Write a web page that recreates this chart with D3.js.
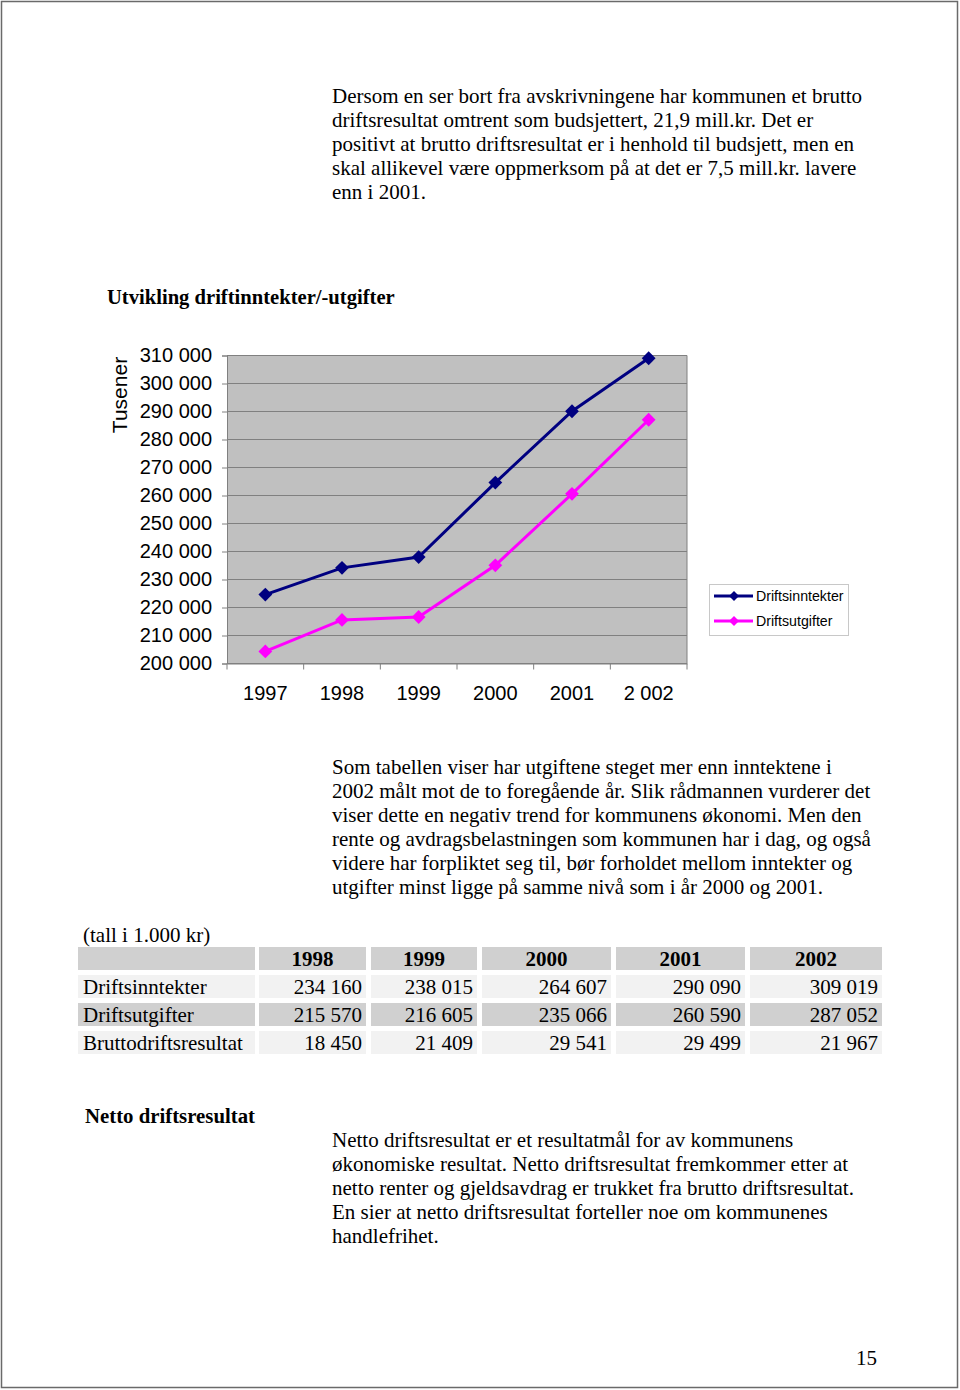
<!DOCTYPE html>
<html><head><meta charset="utf-8">
<script src="https://cdn.jsdelivr.net/npm/d3@7"></script>
<style>body{margin:0;background:#fff}svg{display:block}</style>
</head><body>
<script>
const years = ["1997","1998","1999","2000","2001","2 002"];
const inntekter = [224600,234160,238015,264607,290090,309019];
const utgifter  = [204300,215570,216605,235066,260590,287052];
const yTicks = [200000,210000,220000,230000,240000,250000,260000,270000,280000,290000,300000,310000];
const seriesNames = ["Driftsinntekter","Driftsutgifter"];
const seriesColors = ["#000080","#ff00ff"];

const tableHeader = ["","1998","1999","2000","2001","2002"];
const tableRows = [
  ["Driftsinntekter","234 160","238 015","264 607","290 090","309 019"],
  ["Driftsutgifter","215 570","216 605","235 066","260 590","287 052"],
  ["Bruttodriftsresultat","18 450","21 409","29 541","29 499","21 967"]
];

const para1 = ["Dersom en ser bort fra avskrivningene har kommunen et brutto",
"driftsresultat omtrent som budsjettert, 21,9 mill.kr. Det er",
"positivt at brutto driftsresultat er i henhold til budsjett, men en",
"skal allikevel være oppmerksom på at det er 7,5 mill.kr. lavere",
"enn i 2001."];
const para2 = ["Som tabellen viser har utgiftene steget mer enn inntektene i",
"2002 målt mot de to foregående år. Slik rådmannen vurderer det",
"viser dette en negativ trend for kommunens økonomi. Men den",
"rente og avdragsbelastningen som kommunen har i dag, og også",
"videre har forpliktet seg til, bør forholdet mellom inntekter og",
"utgifter minst ligge på samme nivå som i år 2000 og 2001."];
const para3 = ["Netto driftsresultat er et resultatmål for av kommunens",
"økonomiske resultat. Netto driftsresultat fremkommer etter at",
"netto renter og gjeldsavdrag er trukket fra brutto driftsresultat.",
"En sier at netto driftsresultat forteller noe om kommunenes",
"handlefrihet."];

const W=960,H=1390;
const svg=d3.select("body").append("svg").attr("width",W).attr("height",H);
const serif="'Liberation Serif','Times New Roman',serif";
const sans="'Liberation Sans',Arial,sans-serif";
const FS=21;

// page border
svg.append("rect").attr("x",1.5).attr("y",1.5).attr("width",956).attr("height",1386)
  .attr("fill","none").attr("stroke","#6a6a6a").attr("stroke-width",1.5);

function para(lines,x,y0){
  lines.forEach((t,i)=>svg.append("text").attr("x",x).attr("y",y0+i*24)
    .attr("font-family",serif).attr("font-size",FS).attr("fill","#000").text(t));
}
para(para1,332,103);
svg.append("text").attr("x",107).attr("y",304).attr("font-family",serif).attr("font-weight","bold")
  .attr("font-size",20.6).text("Utvikling driftinntekter/-utgifter");

// chart
const L=227,R=687,T=355.5,B=663.5;
const x=d3.scaleBand().domain(years).range([L,R]);
const y=d3.scaleLinear().domain([200000,310000]).range([B,T]);
const g=svg.append("g");
g.append("rect").attr("x",L).attr("y",T).attr("width",R-L).attr("height",B-T).attr("fill","#c0c0c0");
g.selectAll("line.grid").data(yTicks).join("line").attr("class","grid")
  .attr("x1",L).attr("x2",R).attr("y1",d=>y(d)).attr("y2",d=>y(d))
  .attr("stroke","#808080").attr("stroke-width",1);
g.append("line").attr("x1",R).attr("x2",R).attr("y1",T).attr("y2",B).attr("stroke","#808080");

const yAxis=d3.axisLeft(y).tickValues(yTicks).tickSize(5).tickPadding(10)
  .tickFormat(d=>d3.format(",")(d).replace(/,/g," "));
const ya=g.append("g").attr("transform",`translate(${L},0)`).call(yAxis);
ya.select(".domain").attr("stroke","#808080");
ya.selectAll(".tick line").attr("stroke","#808080");
ya.selectAll("text").attr("font-family",sans).attr("font-size",20).attr("fill","#000");

const xAxis=d3.axisBottom(x).tickSize(0).tickPadding(22);
const xa=g.append("g").attr("transform",`translate(0,${B})`).call(xAxis);
xa.select(".domain").attr("stroke","#808080");
xa.selectAll("text").attr("font-family",sans).attr("font-size",20).attr("fill","#000");
// category boundary ticks
const bounds=years.map(d=>x(d)).concat([R]);
g.selectAll("line.xt").data(bounds).join("line").attr("class","xt")
  .attr("x1",d=>d).attr("x2",d=>d).attr("y1",B).attr("y2",B+6).attr("stroke","#808080");

svg.append("text").attr("transform","translate(127,395) rotate(-90)").attr("text-anchor","middle")
  .attr("font-family",sans).attr("font-size",21).text("Tusener");

const line=d3.line().x((d,i)=>x(years[i])+x.bandwidth()/2).y(d=>y(d));
[inntekter,utgifter].forEach((s,k)=>{
  g.append("path").datum(s).attr("d",line).attr("fill","none")
    .attr("stroke",seriesColors[k]).attr("stroke-width",3);
  g.selectAll(null).data(s).join("path")
    .attr("d",d3.symbol().type(d3.symbolSquare).size(95))
    .attr("transform",(d,i)=>`translate(${x(years[i])+x.bandwidth()/2},${y(d)}) rotate(45)`)
    .attr("fill",seriesColors[k]);
});

// legend
const lg=svg.append("g");
lg.append("rect").attr("x",709.5).attr("y",584.5).attr("width",139).attr("height",51)
  .attr("fill","#fff").attr("stroke","#c8c8c8");
seriesNames.forEach((n,k)=>{
  const yy=596+k*25;
  lg.append("line").attr("x1",714).attr("x2",753).attr("y1",yy).attr("y2",yy)
    .attr("stroke",seriesColors[k]).attr("stroke-width",3);
  lg.append("path").attr("d",d3.symbol().type(d3.symbolSquare).size(50))
    .attr("transform",`translate(734,${yy}) rotate(45)`).attr("fill",seriesColors[k]);
  lg.append("text").attr("x",756).attr("y",yy+5).attr("font-family",sans)
    .attr("font-size",14.2).text(n);
});

para(para2,332,774);

svg.append("text").attr("x",83).attr("y",942).attr("font-family",serif).attr("font-size",FS).text("(tall i 1.000 kr)");

// table
const colX=[78,259,371,482,616,750], colW=[177,107,106,129,129,132];
const rowY=[947,975,1003,1031], rowH=23;
const rowFill=["#d0d0d0","#f2f2f2","#d0d0d0","#f2f2f2"];
const allRows=[tableHeader].concat(tableRows);
allRows.forEach((r,ri)=>{
  r.forEach((c,ci)=>{
    svg.append("rect").attr("x",colX[ci]).attr("y",rowY[ri]).attr("width",colW[ci]).attr("height",rowH)
      .attr("fill",rowFill[ri]);
    const t=svg.append("text").attr("y",rowY[ri]+19).attr("font-family",serif).attr("font-size",FS).text(c);
    if(ri===0){ t.attr("x",colX[ci]+colW[ci]/2).attr("text-anchor","middle").attr("font-weight","bold"); }
    else if(ci===0){ t.attr("x",colX[ci]+5); }
    else { t.attr("x",colX[ci]+colW[ci]-4).attr("text-anchor","end"); }
  });
});

svg.append("text").attr("x",85).attr("y",1123).attr("font-family",serif).attr("font-weight","bold")
  .attr("font-size",20.8).text("Netto driftsresultat");
para(para3,332,1147);
svg.append("text").attr("x",856).attr("y",1365).attr("font-family",serif).attr("font-size",FS).text("15");
</script>
</body></html>
